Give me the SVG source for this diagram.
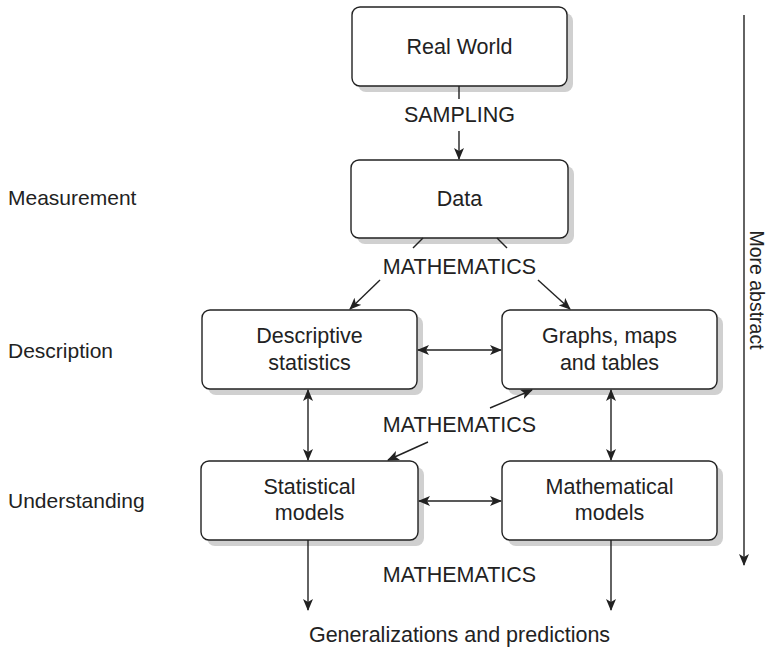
<svg xmlns="http://www.w3.org/2000/svg" width="770" height="650" viewBox="0 0 770 650">
<style>
.box{fill:#fff;stroke:#222;stroke-width:1.4}
.sh{fill:#d0d0d0}
.t{font-family:"Liberation Sans",Arial,sans-serif;font-size:21.5px;fill:#222;text-anchor:middle}
.l{font-family:"Liberation Sans",Arial,sans-serif;font-size:21px;fill:#222}
.r{font-family:"Liberation Sans",Arial,sans-serif;font-size:19.5px;fill:#222;text-anchor:middle}
.c{stroke:#222;stroke-width:1.4;fill:none}
</style>
<defs>
<marker id="ah" markerWidth="12" markerHeight="10" refX="11" refY="5" orient="auto-start-reverse" markerUnits="userSpaceOnUse">
<path d="M0,0 L12,5 L0,10 L3,5 z" fill="#222"/>
</marker>
</defs>
<rect width="770" height="650" fill="#fff"/>
<g id="real-world"><rect class="sh" x="358" y="13" width="215" height="79" rx="8"/><rect class="box" x="352" y="7" width="215" height="79" rx="8"/><text class="t" x="459.5" y="54">Real World</text></g>
<g id="data"><rect class="sh" x="357" y="166" width="217" height="78" rx="8"/><rect class="box" x="351" y="160" width="217" height="78" rx="8"/><text class="t" x="459.5" y="206">Data</text></g>
<g id="descriptive"><rect class="sh" x="208" y="316" width="215" height="79" rx="8"/><rect class="box" x="202" y="310" width="215" height="79" rx="8"/><text class="t" x="309.5" y="343">Descriptive</text><text class="t" x="309.5" y="370">statistics</text></g>
<g id="graphs"><rect class="sh" x="508" y="316" width="215" height="79" rx="8"/><rect class="box" x="502" y="310" width="215" height="79" rx="8"/><text class="t" x="609.5" y="343">Graphs, maps</text><text class="t" x="609.5" y="370">and tables</text></g>
<g id="statistical"><rect class="sh" x="207" y="467" width="217" height="79" rx="8"/><rect class="box" x="201" y="461" width="217" height="79" rx="8"/><text class="t" x="309.5" y="494">Statistical</text><text class="t" x="309.5" y="520">models</text></g>
<g id="mathematical"><rect class="sh" x="508" y="467" width="215" height="79" rx="8"/><rect class="box" x="502" y="461" width="215" height="79" rx="8"/><text class="t" x="609.5" y="494">Mathematical</text><text class="t" x="609.5" y="520">models</text></g>
<g id="labels">
<text class="t" x="459.5" y="122">SAMPLING</text>
<text class="t" x="459.5" y="274">MATHEMATICS</text>
<text class="t" x="459.5" y="432">MATHEMATICS</text>
<text class="t" x="459.5" y="582">MATHEMATICS</text>
<text class="t" x="459.5" y="642">Generalizations and predictions</text>
<text class="l" x="8" y="205">Measurement</text>
<text class="l" x="8" y="358">Description</text>
<text class="l" x="8" y="508">Understanding</text>
<text class="r" transform="translate(750,290) rotate(90)" x="0" y="0">More abstract</text>
</g>
<g id="connectors">
<line class="c" x1="459" y1="86" x2="459" y2="99"/>
<line class="c" x1="459" y1="131" x2="459" y2="159" marker-end="url(#ah)"/>
<line class="c" x1="423" y1="238" x2="413" y2="248"/>
<line class="c" x1="497" y1="238" x2="507" y2="248"/>
<line class="c" x1="380" y1="280" x2="350" y2="309" marker-end="url(#ah)"/>
<line class="c" x1="538" y1="280" x2="570" y2="309" marker-end="url(#ah)"/>
<line class="c" x1="418" y1="350" x2="501" y2="350" marker-start="url(#ah)" marker-end="url(#ah)"/>
<line class="c" x1="308" y1="390" x2="308" y2="460" marker-start="url(#ah)" marker-end="url(#ah)"/>
<line class="c" x1="611" y1="390" x2="611" y2="460" marker-start="url(#ah)" marker-end="url(#ah)"/>
<line class="c" x1="490" y1="408" x2="532" y2="390" marker-end="url(#ah)"/>
<line class="c" x1="428" y1="442" x2="388" y2="460" marker-end="url(#ah)"/>
<line class="c" x1="419" y1="501" x2="501" y2="501" marker-start="url(#ah)" marker-end="url(#ah)"/>
<line class="c" x1="308" y1="540" x2="308" y2="610" marker-end="url(#ah)"/>
<line class="c" x1="611" y1="540" x2="611" y2="610" marker-end="url(#ah)"/>
<line class="c" x1="744" y1="15" x2="744" y2="565" marker-end="url(#ah)"/>
</g>
</svg>
